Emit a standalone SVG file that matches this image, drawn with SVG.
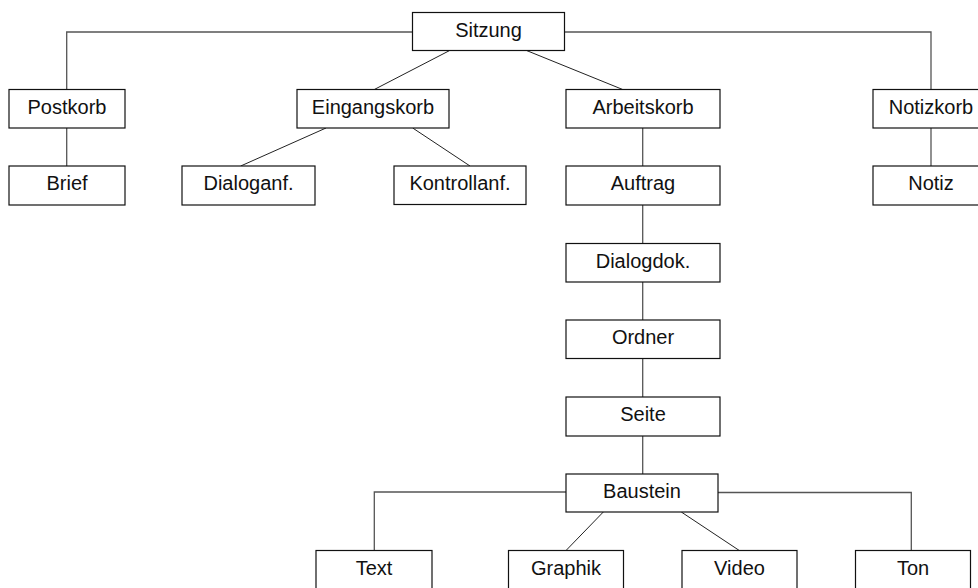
<svg xmlns="http://www.w3.org/2000/svg" width="978" height="588" viewBox="0 0 978 588">
<style>
.box{fill:#fff;stroke:#111;stroke-width:1.2}
.lbl{font-family:"Liberation Sans",Arial,sans-serif;font-size:20px;fill:#111;text-anchor:middle}
.c{fill:none;stroke:#555;stroke-width:1.3}
.d{fill:none;stroke:#222;stroke-width:1}
</style>
<rect width="978" height="588" fill="#fff"/>
<g id="connectors">
<polyline class="c" points="412.5,32 66.7,32 66.7,89.5"/>
<polyline class="c" points="564.5,32 931,32 931,89.5"/>
<line class="d" x1="449.3" y1="50.7" x2="374.3" y2="89.5"/>
<line class="d" x1="527" y1="50.7" x2="622.7" y2="89.5"/>
<line class="c" x1="66.7" y1="128" x2="66.7" y2="166"/>
<line class="d" x1="326" y1="128" x2="240.7" y2="166"/>
<line class="d" x1="412.7" y1="128" x2="470" y2="166"/>
<line class="c" x1="642.7" y1="128" x2="642.7" y2="166"/>
<line class="c" x1="931" y1="128" x2="931" y2="166"/>
<line class="c" x1="642.7" y1="205" x2="642.7" y2="243.5"/>
<line class="c" x1="642.7" y1="282" x2="642.7" y2="320"/>
<line class="c" x1="642.7" y1="358.5" x2="642.7" y2="397"/>
<line class="c" x1="642.7" y1="436" x2="642.7" y2="474"/>
<polyline class="c" points="566,492 374.3,492 374.3,550.5"/>
<polyline class="c" points="718,492.5 911.3,492.5 911.3,550.5"/>
<line class="d" x1="603.3" y1="512" x2="566" y2="550.5"/>
<line class="d" x1="681.3" y1="512" x2="739.3" y2="550.5"/>
</g>
<g id="sitzung"><rect class="box" x="412.5" y="12.5" width="152" height="38"/><text class="lbl" x="488.5" y="36.5">Sitzung</text></g>
<g id="postkorb"><rect class="box" x="9" y="89.5" width="116" height="38.5"/><text class="lbl" x="67" y="113.5">Postkorb</text></g>
<g id="eingangskorb"><rect class="box" x="297" y="89.5" width="152" height="38.5"/><text class="lbl" x="373" y="113.5">Eingangskorb</text></g>
<g id="arbeitskorb"><rect class="box" x="566" y="89.5" width="154" height="38.5"/><text class="lbl" x="643" y="113.5">Arbeitskorb</text></g>
<g id="notizkorb"><rect class="box" x="873" y="89.5" width="116" height="38.5"/><text class="lbl" x="931" y="113.5">Notizkorb</text></g>
<g id="brief"><rect class="box" x="9" y="166" width="116" height="39"/><text class="lbl" x="67" y="190">Brief</text></g>
<g id="dialoganf"><rect class="box" x="182" y="166" width="133" height="39"/><text class="lbl" x="248.5" y="190">Dialoganf.</text></g>
<g id="kontrollanf"><rect class="box" x="394" y="166" width="132" height="38.5"/><text class="lbl" x="460" y="190">Kontrollanf.</text></g>
<g id="auftrag"><rect class="box" x="566" y="166" width="154" height="39"/><text class="lbl" x="643" y="190">Auftrag</text></g>
<g id="notiz"><rect class="box" x="873" y="166" width="116" height="39"/><text class="lbl" x="931" y="190">Notiz</text></g>
<g id="dialogdok"><rect class="box" x="566" y="243.5" width="154" height="38.5"/><text class="lbl" x="643" y="267.5">Dialogdok.</text></g>
<g id="ordner"><rect class="box" x="566" y="320" width="154" height="38.5"/><text class="lbl" x="643" y="344">Ordner</text></g>
<g id="seite"><rect class="box" x="566" y="397" width="154" height="39"/><text class="lbl" x="643" y="421">Seite</text></g>
<g id="baustein"><rect class="box" x="566" y="474" width="152" height="38"/><text class="lbl" x="642" y="498">Baustein</text></g>
<g id="text"><rect class="box" x="316" y="550.5" width="116" height="40"/><text class="lbl" x="374" y="574.5">Text</text></g>
<g id="graphik"><rect class="box" x="508.5" y="550.5" width="115" height="40"/><text class="lbl" x="566" y="574.5">Graphik</text></g>
<g id="video"><rect class="box" x="682" y="550.5" width="115" height="40"/><text class="lbl" x="739.5" y="574.5">Video</text></g>
<g id="ton"><rect class="box" x="855.5" y="550.5" width="115" height="40"/><text class="lbl" x="913" y="574.5">Ton</text></g>
</svg>
